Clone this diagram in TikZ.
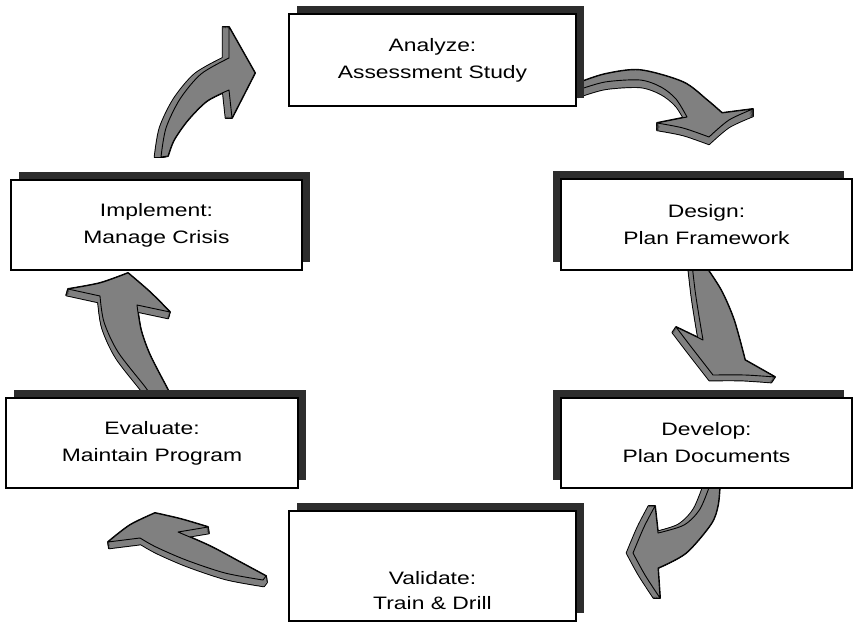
\documentclass[tikz,border=0pt]{standalone}
\usepackage{fontspec}
\setmainfont{Liberation Sans}[FakeStretch=1.27]
\usetikzlibrary{shadows}
\definecolor{arrowgray}{RGB}{128,128,128}
\definecolor{shadowgray}{RGB}{45,45,45}
\pgfdeclarelayer{background}
\pgfsetlayers{background,main}
% #1,#2: extrusion vector, #3: top-face path
\newcommand\blockarrow[3]{%
  \foreach \st in {0,0.1,...,1.0}{\path[draw=black,line width=1.9pt,line join=round,fill=arrowgray,shift={(\st*#1,\st*#2)}] #3;}%
  \foreach \st in {0,0.1,...,1.0}{\path[fill=arrowgray,shift={(\st*#1,\st*#2)}] #3;}%
  \path[arrowface] #3;}
\begin{document}
\begin{tikzpicture}[x=1pt,y=-1pt,
  stagebox/.style={draw=black,line width=2.6pt,fill=white,align=center,
    font=\fontsize{18}{27}\selectfont,inner sep=0pt},
  stagelabel/.style={align=center,font=\fontsize{18}{25}\selectfont,inner sep=0pt},
  shadowright/.style={drop shadow={shadow xshift=8pt,shadow yshift=8.5pt,fill=shadowgray,opacity=1}},
  shadowleft/.style={drop shadow={shadow xshift=-8pt,shadow yshift=8.5pt,fill=shadowgray,opacity=1}},
  arrowface/.style={draw=black,line width=0.9pt,line join=round,fill=arrowgray}]
\useasboundingbox (0,0) rectangle (853,629);

\node[stagebox,shadowright,minimum width=287pt,minimum height=92pt] (an) at (432.5,60) {Analyze:\\Assessment Study};
\node[stagebox,shadowleft,minimum width=291pt,minimum height=91pt] (de) at (706.5,224.5) {Design:\\Plan Framework};
\node[stagebox,shadowleft,minimum width=291pt,minimum height=90pt] (dv) at (706.5,443) {Develop:\\Plan Documents};
\node[stagebox,shadowright,minimum width=287pt,minimum height=110pt] (va) at (432.5,566) {};
\node[stagelabel] (vat) at ([yshift=-25pt]va.center) {Validate:\\Train \& Drill};
\node[stagebox,shadowright,minimum width=292pt,minimum height=90pt] (ev) at (152,443) {Evaluate:\\Maintain Program};
\node[stagebox,shadowright,minimum width=291pt,minimum height=90pt] (im) at (156.5,225) {Implement:\\Manage Crisis};

\begin{pgfonlayer}{background}
\fill[white] (0,0) rectangle (853,629);
% Analyze -> Design
\blockarrow{0}{8}{plot[smooth] coordinates {(578,83) (605,74) (640,70) (683,82) (707,100) (722,113)} -- plot[smooth] coordinates {(753,109) (729,120) (709,137)} -- plot[smooth] coordinates {(709,137) (683,128) (657,123)} -- plot[smooth] coordinates {(687,117) (676,99) (661,87) (640,80) (605,82) (578,90)} -- cycle}
% Design -> Develop
\blockarrow{-4}{6}{(692,264) -- plot[smooth] coordinates {(704,264) (721,290) (734,320) (745,360)} -- plot[smooth] coordinates {(775,377) (745,375) (713,375)} -- plot[smooth] coordinates {(713,375) (692,348) (676,327)} -- plot[smooth] coordinates {(703,340) (698,310) (695,290) (692,264)} -- cycle}
% Develop -> Validate
\blockarrow{-7}{0}{(711,482) -- plot[smooth] coordinates {(720,482) (718,505) (711,524) (686,553) (658,568)} -- plot[smooth] coordinates {(660,598) (645,575) (633,553)} -- plot[smooth] coordinates {(633,553) (644,527) (655,506)} -- plot[smooth] coordinates {(658,533) (684,525) (700,509) (711,482)} -- cycle}
% Validate -> Evaluate
\blockarrow{1}{7}{plot[smooth] coordinates {(155,513) (181,519) (208,527)} -- plot[smooth] coordinates {(178,532) (210,546) (240,562) (266,576)} -- plot[smooth] coordinates {(263,580) (225,573) (186,560) (156,547) (140,538)} -- plot[smooth] coordinates {(108,542) (130,525) (155,513)} -- cycle}
% Evaluate -> Implement
\blockarrow{-2}{7}{plot[smooth] coordinates {(128,273) (100,283) (68,289)} -- plot[smooth] coordinates {(100,296) (104,322) (118,352) (146,388) (150,396)} -- plot[smooth] coordinates {(171,396) (167,388) (150,355) (141,330) (137,305)} -- plot[smooth] coordinates {(170,312) (150,292) (128,273)} -- cycle}
% Implement -> Analyze
\blockarrow{-7}{0}{plot[smooth] coordinates {(161,157) (166,128) (180,99) (201,74) (229,58)} -- (229,27) -- (255,73) -- (232,118) -- plot[smooth] coordinates {(229,90) (207,101) (188,120) (174,140) (168,156)} -- cycle}
\end{pgfonlayer}
\end{tikzpicture}
\end{document}
